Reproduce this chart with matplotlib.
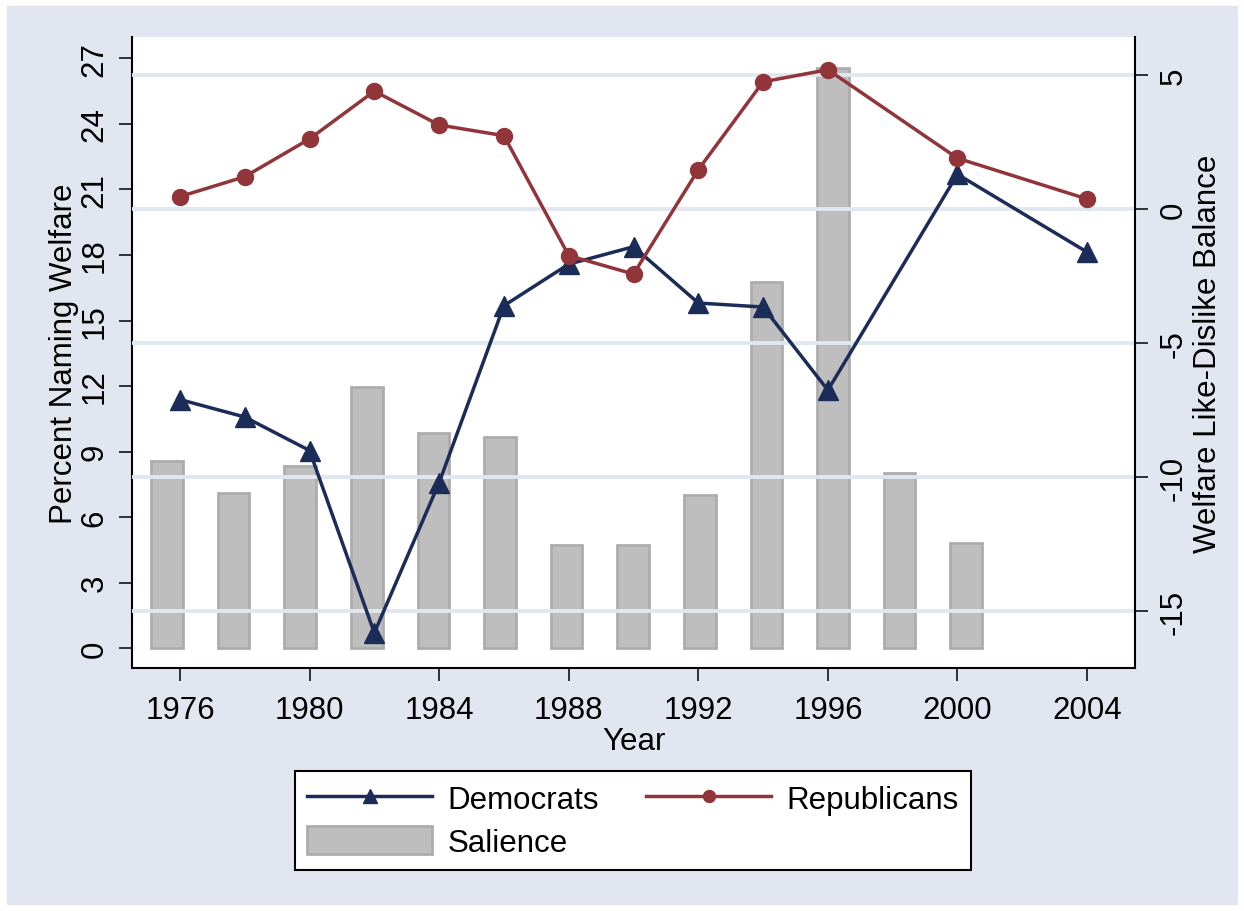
import matplotlib.pyplot as plt
from matplotlib.lines import Line2D
from matplotlib.patches import Patch, Rectangle

plt.rcParams['font.family'] = ['Liberation Sans', 'DejaVu Sans']
plt.rcParams['axes.unicode_minus'] = False

# salience bars (left axis)
sal_years = [1976, 1978, 1980, 1982, 1984, 1986, 1988, 1990, 1992, 1994, 1996, 1998, 2000]
salience = [8.55, 7.1, 8.35, 11.95, 9.85, 9.65, 4.7, 4.7, 7.0, 16.75, 26.55, 8.0, 4.8]

# like-dislike balance (right axis)
years = [1976, 1978, 1980, 1982, 1984, 1986, 1988, 1990, 1992, 1994, 1996, 2000, 2004]
dem = [-7.1, -7.75, -9.0, -15.8, -10.2, -3.6, -2.05, -1.4, -3.5, -3.65, -6.75, 1.3, -1.6]
rep = [0.47, 1.21, 2.62, 4.40, 3.14, 2.74, -1.73, -2.42, 1.47, 4.75, 5.20, 1.90, 0.38]

bg = '#e1e6f0'
dem_c = '#1c2c58'
rep_c = '#91353b'
bar_c = '#bebebe'
bar_e = '#adadad'
fs = 22.5

fig = plt.figure(figsize=(12.44, 9.12), dpi=100)
fig.patches.append(Rectangle((7/1244, 7/912), 1 - 14/1244, 1 - 14/912,
                             transform=fig.transFigure, color=bg, zorder=-10))

pos = [132/1244, 1 - 669/912, (1135 - 132)/1244, (669 - 38)/912]
ax = fig.add_axes(pos)
ax2 = fig.add_axes(pos)
ax.set_facecolor('white')
ax2.set_facecolor('none')

# bars
ax.bar(sal_years, salience, width=0.95, color=bar_c, edgecolor=bar_e, linewidth=2)
ax.set_xlim(1974.95, 2005.07)
ax.set_ylim(-0.91, 27.98)
ax.set_yticks(range(0, 28, 3))
ax.set_xticks([])
ax.set_ylabel('Percent Naming Welfare', fontsize=fs, labelpad=0.5)
for s in ['top', 'right', 'bottom']:
    ax.spines[s].set_visible(False)
ax.spines['left'].set_linewidth(1.5)
ax.tick_params(axis='y', labelsize=fs, length=9.5, width=1.1, pad=6.5, labelrotation=90)
for t in ax.get_yticklabels():
    t.set_va('center')

# lines
ax2.grid(axis='y', color=bg, linewidth=2.8)
ax2.set_axisbelow(True)
ax2.plot(years, dem, color=dem_c, lw=2.5, marker='^', ms=14, label='Democrats')
ax2.plot(years, rep, color=rep_c, lw=2.5, marker='o', ms=11.5, label='Republicans')
ax2.set_xlim(1974.52, 2005.48)
ax2.set_ylim(-17.11, 6.42)
ax2.yaxis.tick_right()
ax2.yaxis.set_label_position('right')
ax2.set_yticks([-15, -10, -5, 0, 5])
ax2.set_xticks(range(1976, 2005, 4))
ax2.set_xlabel('Year', fontsize=fs, labelpad=1)
ax2.set_ylabel('Welfare Like-Dislike Balance', fontsize=fs, labelpad=3)
for s in ['top', 'left']:
    ax2.spines[s].set_visible(False)
ax2.spines['right'].set_linewidth(1.5)
ax2.spines['bottom'].set_linewidth(1.5)
ax2.tick_params(axis='x', labelsize=fs, length=9.5, width=1.1, pad=10)
ax2.tick_params(axis='y', labelsize=fs, length=9.5, width=1.1, pad=7.5, labelrotation=90)
for t in ax2.get_yticklabels():
    t.set_va('center')

h_dem = Line2D([], [], color=dem_c, lw=2.5, marker='^', ms=14)
h_rep = Line2D([], [], color=rep_c, lw=2.5, marker='o', ms=11.5)
h_sal = Patch(facecolor=bar_c, edgecolor=bar_e, linewidth=2)
leg = fig.legend([h_dem, h_sal, h_rep], ['Democrats', 'Salience', 'Republicans'],
                 ncol=2, loc='center', bbox_to_anchor=(633/1244, 1 - 821.5/912),
                 fontsize=fs, handlelength=4, handleheight=1.0, handletextpad=0.5,
                 columnspacing=1.5, borderpad=0.4, labelspacing=0.35,
                 frameon=True, fancybox=False, edgecolor='black', framealpha=1,
                 markerscale=0.75)
leg.get_frame().set_linewidth(1.5)

fig.savefig('out.png', dpi=100, facecolor='white')
